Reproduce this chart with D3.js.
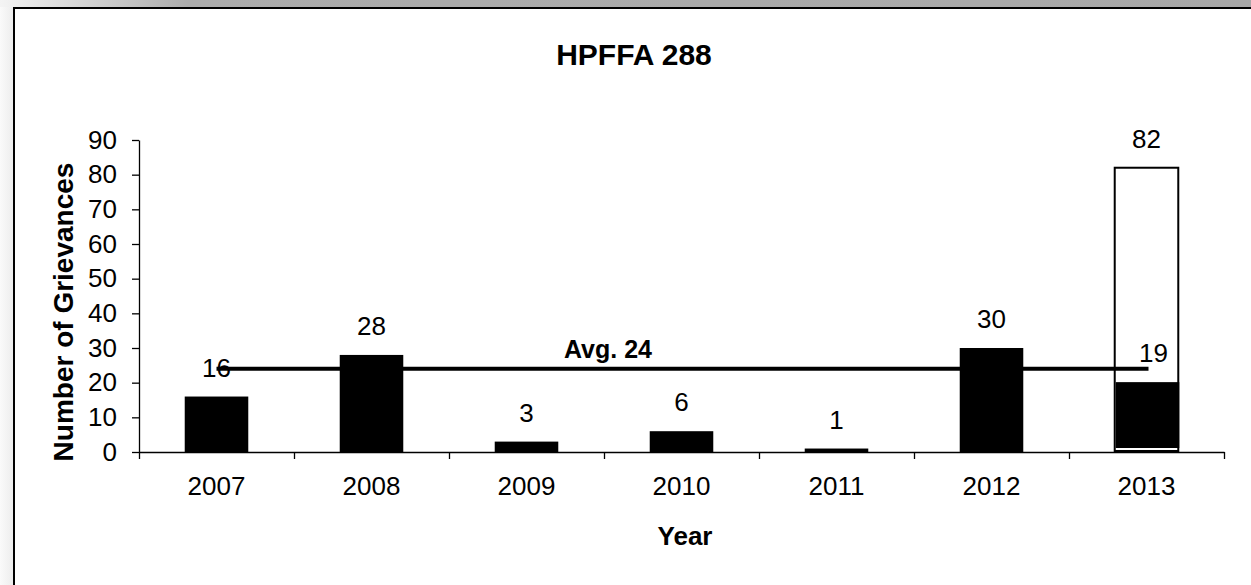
<!DOCTYPE html>
<html>
<head>
<meta charset="utf-8">
<script src="https://cdn.jsdelivr.net/npm/d3@7"></script>
<style>
  body { margin: 0; background: #fff; }
  svg { display: block; font-family: "Liberation Sans", Arial, sans-serif; }
</style>
</head>
<body>
<script>
// chart data
const years = ['2007', '2008', '2009', '2010', '2011', '2012', '2013'];
const grievances = [16, 28, 3, 6, 1, 30, 19];
const outlineValues = [null, null, null, null, null, null, 82]; // hollow bar, 2013 only
const avgValue = 24;
const avgLabel = 'Avg. 24';
const yTicks = [0, 10, 20, 30, 40, 50, 60, 70, 80, 90];
const chartTitle = 'HPFFA 288';
const xTitle = 'Year';
const yTitle = 'Number of Grievances';

const width = 1251;
const height = 585;

const svg = d3.select('body').append('svg')
  .attr('width', width)
  .attr('height', height);

// frame shadow like the original screenshot
const defs = svg.append('defs');
const topGrad = defs.append('linearGradient').attr('id', 'topGrad')
  .attr('x1', 0).attr('x2', 1).attr('y1', 0).attr('y2', 0);
topGrad.append('stop').attr('offset', '0%').attr('stop-color', '#f4f4f4');
topGrad.append('stop').attr('offset', '15%').attr('stop-color', '#acacac');
topGrad.append('stop').attr('offset', '100%').attr('stop-color', '#a8a8a8');
const leftGrad = defs.append('linearGradient').attr('id', 'leftGrad')
  .attr('x1', 0).attr('x2', 1).attr('y1', 0).attr('y2', 0);
leftGrad.append('stop').attr('offset', '0%').attr('stop-color', '#fafafa');
leftGrad.append('stop').attr('offset', '100%').attr('stop-color', '#ececec');

svg.append('rect').attr('x', 0).attr('y', 0).attr('width', 14).attr('height', height)
  .attr('fill', 'url(#leftGrad)');
svg.append('rect').attr('x', 0).attr('y', 0).attr('width', width).attr('height', 7)
  .attr('fill', 'url(#topGrad)');
svg.append('path')
  .attr('d', `M14,${height} V8 H${width}`)
  .attr('fill', 'none').attr('stroke', '#000').attr('stroke-width', 2);

// plot area
const margin = { left: 139, right: 1224, top: 140, bottom: 452 };

const xIdx = d3.scaleLinear().domain([0, years.length]).range([margin.left, margin.right]);
const x = d3.scaleBand().domain(years).range([margin.left, margin.right]).padding(0);
const barW = x.bandwidth() * 0.41;
const y = d3.scaleLinear().domain([0, 90]).range([margin.bottom, margin.top]);

// title
svg.append('text')
  .attr('x', 634).attr('y', 65)
  .attr('text-anchor', 'middle')
  .style('font-size', '30px').style('font-weight', 'bold')
  .text(chartTitle);

// axes
const yAxis = svg.append('g')
  .attr('transform', `translate(${margin.left},0)`)
  .call(d3.axisLeft(y).tickValues(yTicks).tickSize(7).tickSizeOuter(0).tickPadding(15));
yAxis.selectAll('text').style('font-size', '26px').style('font-family', 'Liberation Sans, Arial, sans-serif');

const xAxis = svg.append('g')
  .attr('transform', `translate(0,${margin.bottom})`)
  .call(d3.axisBottom(xIdx).tickValues(d3.range(years.length + 1)).tickFormat('').tickSize(7).tickSizeOuter(0));

svg.selectAll('.domain, .tick line').attr('stroke', '#000').attr('stroke-width', 1.3);

svg.append('g').selectAll('text')
  .data(years)
  .enter()
  .append('text')
  .attr('x', d => x(d) + x.bandwidth() / 2)
  .attr('y', margin.bottom + 43)
  .attr('text-anchor', 'middle')
  .style('font-size', '26px')
  .text(d => d);

// hollow bar (drawn first so the black one sits in front)
svg.append('g').selectAll('rect')
  .data(years.map((d, i) => ({ year: d, v: outlineValues[i] })).filter(d => d.v != null))
  .enter()
  .append('rect')
  .attr('x', d => x(d.year) + (x.bandwidth() - barW) / 2)
  .attr('y', d => y(d.v))
  .attr('width', barW)
  .attr('height', d => y(0) - y(d.v) - 1)
  .attr('fill', '#fff')
  .attr('stroke', '#000')
  .attr('stroke-width', 2);

// black bars
const lastIdx = years.length - 1;
svg.append('g').selectAll('rect')
  .data(years.map((d, i) => ({ year: d, v: grievances[i], i: i })))
  .enter()
  .append('rect')
  .attr('x', d => x(d.year) + (x.bandwidth() - barW) / 2 + (d.i === lastIdx ? 1 : 0))
  .attr('y', d => y(d.v) - (d.i === lastIdx ? 4 : 0))
  .attr('width', barW)
  .attr('height', d => y(0) - y(d.v))
  .attr('fill', '#000');

// value labels
svg.append('g').selectAll('text')
  .data(years.map((d, i) => ({ year: d, v: grievances[i], i: i })))
  .enter()
  .append('text')
  .attr('x', d => x(d.year) + x.bandwidth() / 2 + (d.i === lastIdx ? 7 : 0))
  .attr('y', d => y(d.v) - (d.i === lastIdx ? 24 : 20))
  .attr('text-anchor', 'middle')
  .style('font-size', '26px')
  .text(d => d.v);

svg.append('g').selectAll('text')
  .data(years.map((d, i) => ({ year: d, v: outlineValues[i] })).filter(d => d.v != null))
  .enter()
  .append('text')
  .attr('x', d => x(d.year) + x.bandwidth() / 2)
  .attr('y', d => y(d.v) - 20)
  .attr('text-anchor', 'middle')
  .style('font-size', '26px')
  .text(d => d.v);

// average line
const avgY = y(avgValue);
svg.append('line')
  .attr('x1', x(years[0]) + x.bandwidth() / 2)
  .attr('x2', x(years[lastIdx]) + x.bandwidth() / 2 + 2)
  .attr('y1', avgY).attr('y2', avgY)
  .attr('stroke', '#000')
  .attr('stroke-width', 4);

svg.append('text')
  .attr('x', xIdx(3) + 4)
  .attr('y', avgY - 11)
  .attr('text-anchor', 'middle')
  .style('font-size', '25px').style('font-weight', 'bold')
  .text(avgLabel);

// axis titles
svg.append('text')
  .attr('x', 685).attr('y', 545)
  .attr('text-anchor', 'middle')
  .style('font-size', '26px').style('font-weight', 'bold')
  .text(xTitle);

svg.append('text')
  .attr('transform', 'translate(73,312) rotate(-90)')
  .attr('text-anchor', 'middle')
  .style('font-size', '28px').style('font-weight', 'bold')
  .text(yTitle);
</script>
</body>
</html>
